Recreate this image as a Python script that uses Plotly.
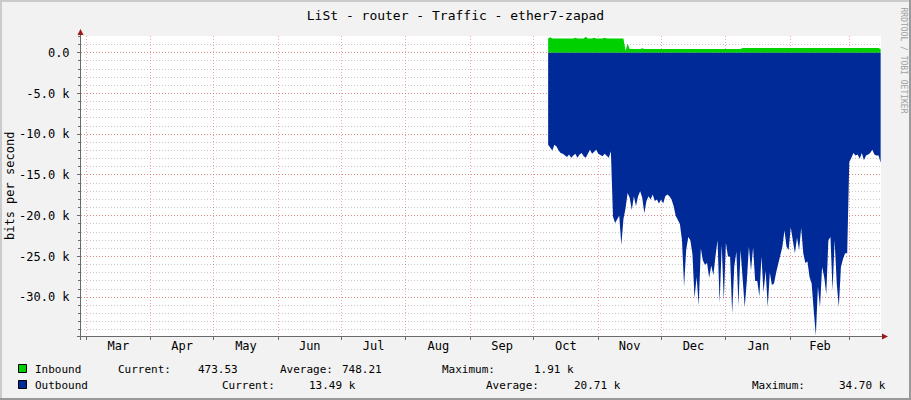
import plotly.graph_objects as go
import pandas as pd

# ---------------- data ----------------
title_text = "LiSt - router - Traffic - ether7-zapad"
start_date = "2022-10-08"   # first daily sample

# inbound (k bits/s), daily
inbound_k = [
    1.75, 1.90, 1.75, 1.75, 1.75, 1.75, 1.75, 1.75, 1.75, 1.75,
    1.75, 1.75, 1.75, 1.85, 1.75, 1.75, 1.75, 1.75, 1.95, 1.75,
    1.75, 1.75, 1.85, 1.75, 1.75, 1.75, 1.75, 1.85, 1.75, 1.75,
    1.75, 1.75, 1.75, 1.75, 1.75, 1.75, 1.75, 0.25, 1.10, 0.45,
    0.45, 0.45, 0.45, 0.45, 0.45, 0.55, 0.45, 0.45, 0.45, 0.45,
    0.45, 0.45, 0.45, 0.45, 0.45, 0.45, 0.45, 0.45, 0.45, 0.45,
    0.45, 0.45, 0.45, 0.45, 0.45, 0.45, 0.45, 0.45, 0.45, 0.45,
    0.45, 0.45, 0.45, 0.45, 0.45, 0.45, 0.45, 0.45, 0.45, 0.45,
    0.45, 0.45, 0.45, 0.45, 0.45, 0.45, 0.45, 0.45, 0.45, 0.45,
    0.45, 0.45, 0.45, 0.58, 0.58, 0.58, 0.58, 0.58, 0.58, 0.58,
    0.58, 0.58, 0.58, 0.58, 0.58, 0.58, 0.58, 0.58, 0.58, 0.58,
    0.58, 0.58, 0.58, 0.58, 0.58, 0.58, 0.58, 0.58, 0.58, 0.58,
    0.58, 0.58, 0.58, 0.65, 0.65, 0.58, 0.58, 0.58, 0.58, 0.58,
    0.58, 0.58, 0.58, 0.58, 0.58, 0.58, 0.58, 0.58, 0.58, 0.58,
    0.58, 0.58, 0.58, 0.58, 0.58, 0.58, 0.58, 0.58, 0.58, 0.58,
    0.58, 0.58, 0.58, 0.58, 0.58, 0.58, 0.58, 0.58, 0.58, 0.47,
]

# outbound (k bits/s, drawn negative), daily
outbound_k = [
    11.3, 11.7, 12.0, 11.3, 11.5, 12.0, 12.3, 12.4, 12.6, 12.8,
    12.5, 12.9, 12.6, 12.4, 12.9, 12.5, 12.3, 12.7, 12.9, 12.4,
    11.9, 12.4, 12.2, 11.9, 12.4, 12.6, 12.7, 12.4, 12.6, 12.9,
    12.1, 20.1, 20.9, 20.4, 20.0, 23.6, 20.4, 19.1, 17.2, 17.8,
    19.3, 17.6, 18.8, 17.6, 17.0, 17.8, 19.7, 18.2, 17.6, 18.0,
    17.4, 18.2, 18.0, 18.5, 18.0, 18.5, 17.6, 17.4, 17.6, 18.0,
    18.8, 20.0, 20.5, 21.0, 23.0, 28.7, 24.2, 22.6, 23.0, 24.7,
    30.1, 27.5, 31.0, 24.0, 25.5, 26.0, 25.8, 27.6, 26.1, 27.3,
    25.0, 23.0, 30.7, 23.6, 30.4, 23.3, 25.0, 25.0, 32.0, 26.2,
    24.4, 31.0, 24.2, 27.9, 31.2, 28.0, 23.8, 26.7, 23.9, 28.0,
    28.0, 29.9, 25.0, 29.4, 26.7, 31.2, 27.0, 28.5, 28.3, 27.0,
    25.8, 24.8, 23.8, 21.8, 23.8, 24.2, 21.4, 23.0, 24.6, 22.7,
    24.2, 21.5, 24.6, 25.8, 25.6, 27.5, 28.3, 31.6, 34.7, 28.7,
    31.2, 26.3, 27.5, 29.6, 23.0, 22.6, 29.2, 23.0, 28.3, 31.2,
    26.3, 25.3, 24.6, 24.6, 13.4, 12.9, 12.3, 12.6, 12.5, 13.0,
    12.3, 13.2, 12.6, 12.5, 12.3, 11.9, 12.5, 12.6, 12.6, 13.5,
]

y_tick_vals = [0, -5000, -10000, -15000, -20000, -25000, -30000]
y_tick_text = ["0.0", "-5.0 k", "-10.0 k", "-15.0 k", "-20.0 k", "-25.0 k", "-30.0 k"]

month_starts = ["2022-03-01", "2022-04-01", "2022-05-01", "2022-06-01", "2022-07-01",
                "2022-08-01", "2022-09-01", "2022-10-01", "2022-11-01", "2022-12-01",
                "2023-01-01", "2023-02-01", "2023-03-01"]
month_labels = ["Mar", "Apr", "May", "Jun", "Jul", "Aug", "Sep", "Oct", "Nov", "Dec",
                "Jan", "Feb"]

legend_rows = [
    ("Inbound", "#00CF00", [("Current:", 116), ("473.53", 196), ("Average:", 278),
                             ("748.21", 340), ("Maximum:", 440), ("1.91 k", 532)]),
    ("Outbound", "#002A97", [("Current:", 220), ("13.49 k", 307), ("Average:", 484),
                              ("20.71 k", 572), ("Maximum:", 750), ("34.70 k", 837)]),
]

dates = pd.date_range(start_date, periods=len(outbound_k), freq="D")
ms = pd.to_datetime(month_starts)
month_mids = [ms[i] + (ms[i + 1] - ms[i]) / 2 for i in range(len(month_labels))]
x_range = ["2022-02-26 14:40", "2023-03-16 04:00"]

# ---------------- layout geometry ----------------
W, H = 911, 400
L, R, T, B = 81, 881, 36, 336


def px(x):
    return (x - L) / (R - L)


def py(y):
    return (B - y) / (B - T)


FONT = "DejaVu Sans Mono"
MGRID = "rgba(230,60,60,0.45)"
GRID = "rgba(120,120,120,0.40)"
AXIS = "#6a6a6a"
ARROW = "#9a1a1a"

fig = go.Figure()
fig.add_trace(go.Scatter(
    x=dates, y=[v * 1000 for v in inbound_k], mode="lines", line=dict(width=0, shape="linear"),
    fill="tozeroy", fillcolor="#00CF00", hoverinfo="skip", showlegend=False))
fig.add_trace(go.Scatter(
    x=dates, y=[-v * 1000 for v in outbound_k], mode="lines", line=dict(width=0, shape="linear"),
    fill="tozeroy", fillcolor="#002A97", hoverinfo="skip", showlegend=False))
# invisible copy on the label axis so that it gets drawn
fig.add_trace(go.Scatter(
    x=dates, y=[v * 1000 for v in inbound_k], mode="lines", line=dict(width=0),
    opacity=0, hoverinfo="skip", showlegend=False, xaxis="x2", yaxis="y"))

fig.update_layout(
    width=W, height=H,
    margin=dict(l=L, r=W - R, t=T, b=H - B, pad=0),
    paper_bgcolor="#F2F2F2", plot_bgcolor="#FFFFFF",
    font=dict(family=FONT, size=12, color="#000000"),
    title=dict(text=title_text, x=0.5, xref="container", xanchor="center",
               y=1 - 15 / H, yref="container", yanchor="middle",
               font=dict(family=FONT, size=13, color="#000000")),
    showlegend=False,
)

fig.update_layout(
    xaxis=dict(
        type="date", range=x_range,
        tickmode="array", tickvals=month_starts, showticklabels=False,
        showgrid=True, gridcolor=MGRID, griddash="1px,2px", gridwidth=1,
        ticks="outside", ticklen=3, tickcolor=AXIS,
        showline=False, zeroline=False, automargin=False,
    ),
    xaxis2=dict(
        type="date", range=x_range, overlaying="x", anchor="y", side="bottom",
        tickmode="array", tickvals=month_mids, ticktext=month_labels,
        showgrid=False, ticks="", showline=False, zeroline=False, automargin=False,
        ticklabelstandoff=1,
        tickfont=dict(family=FONT, size=12, color="#000000"),
    ),
    yaxis=dict(
        range=[-34750, 2050],
        tickmode="array", tickvals=y_tick_vals, ticktext=y_tick_text,
        showgrid=True, gridcolor=MGRID, griddash="1px,2px", gridwidth=1,
        ticks="outside", ticklen=3, tickcolor=AXIS,
        minor=dict(tickmode="linear", tick0=0, dtick=1000, showgrid=True,
                   gridcolor=GRID, griddash="1px,2px", gridwidth=1,
                   ticks="outside", ticklen=2, tickcolor=AXIS),
        showline=False, zeroline=False, automargin=False,
        ticklabelstandoff=5,
        tickfont=dict(family=FONT, size=12, color="#000000"),
    ),
)

shapes = []
# frame
shapes.append(dict(type="rect", xref="paper", yref="paper", x0=px(0), x1=px(W), y0=py(0), y1=py(2),
                   fillcolor="#CBCBCB", line=dict(width=0), layer="below"))
shapes.append(dict(type="rect", xref="paper", yref="paper", x0=px(0), x1=px(2), y0=py(0), y1=py(H),
                   fillcolor="#CBCBCB", line=dict(width=0), layer="below"))
shapes.append(dict(type="rect", xref="paper", yref="paper", x0=px(W - 2), x1=px(W), y0=py(0), y1=py(H),
                   fillcolor="#999999", line=dict(width=0), layer="below"))
shapes.append(dict(type="rect", xref="paper", yref="paper", x0=px(0), x1=px(W), y0=py(H - 2), y1=py(H),
                   fillcolor="#999999", line=dict(width=0), layer="below"))
# axes lines
shapes.append(dict(type="line", xref="paper", yref="paper", x0=px(80.5), x1=px(80.5), y0=py(33), y1=py(340),
                   line=dict(color=AXIS, width=1)))
shapes.append(dict(type="line", xref="paper", yref="paper", x0=px(77), x1=px(883), y0=py(336.5), y1=py(336.5),
                   line=dict(color=AXIS, width=1)))
# arrows
shapes.append(dict(type="path", xref="paper", yref="paper",
                   path=f"M {px(80.5)},{py(29)} L {px(77.5)},{py(35)} L {px(83.5)},{py(35)} Z",
                   fillcolor=ARROW, line=dict(width=0)))
shapes.append(dict(type="path", xref="paper", yref="paper",
                   path=f"M {px(888)},{py(336.5)} L {px(882)},{py(333.5)} L {px(882)},{py(339.5)} Z",
                   fillcolor=ARROW, line=dict(width=0)))

annotations = []
# y axis title
annotations.append(dict(text="bits per second", xref="paper", yref="paper", x=px(10), y=py(186),
                        xanchor="center", yanchor="middle", textangle=-90, showarrow=False,
                        font=dict(family=FONT, size=12, color="#000000")))
# watermark
annotations.append(dict(text="RRDTOOL / TOBI OETIKER", xref="paper", yref="paper", x=px(902.5), y=py(60),
                        xanchor="center", yanchor="middle", textangle=90, showarrow=False,
                        font=dict(family=FONT, size=8, color="#A0A0A0")))

row_y = [369, 385]
for (name, color, items), yy in zip(legend_rows, row_y):
    shapes.append(dict(type="rect", xref="paper", yref="paper", x0=px(18.5), x1=px(26.5),
                       y0=py(yy - 4.5), y1=py(yy + 3.5), fillcolor=color,
                       line=dict(color="#000000", width=1)))
    annotations.append(dict(text=name, xref="paper", yref="paper", x=px(33), y=py(yy),
                            xanchor="left", yanchor="middle", showarrow=False,
                            font=dict(family=FONT, size=11, color="#000000")))
    for txt, xx in items:
        annotations.append(dict(text=txt, xref="paper", yref="paper", x=px(xx), y=py(yy),
                                xanchor="left", yanchor="middle", showarrow=False,
                                font=dict(family=FONT, size=11, color="#000000")))

fig.update_layout(shapes=shapes, annotations=annotations)

fig.write_html("out.html", config={"displayModeBar": False},
               post_script="document.body.style.margin='0';")
